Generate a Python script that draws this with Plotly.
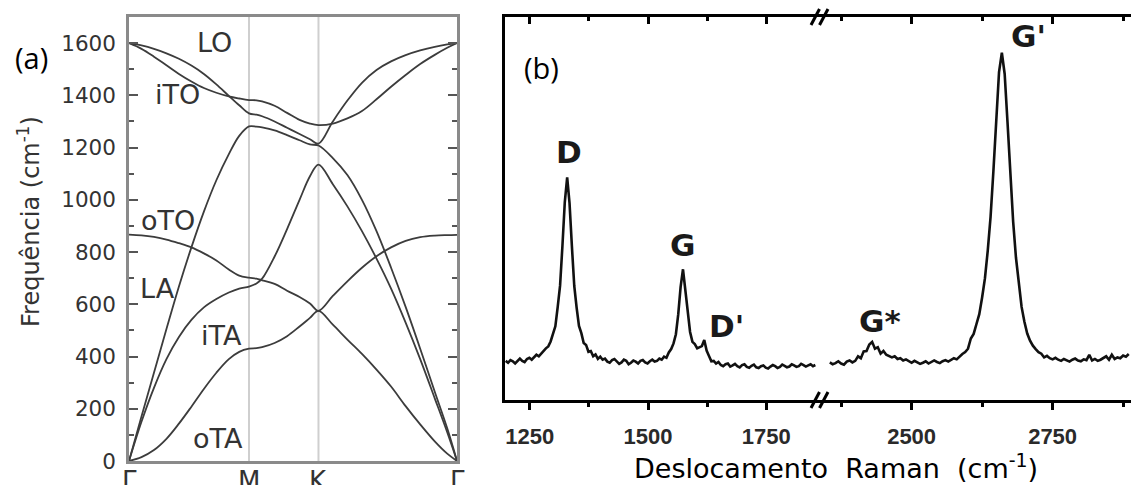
import plotly.graph_objects as go

W, H = 1131, 485

# ---------------- panel (a): graphene phonon dispersion ----------------
PATH_S = [0, .06, .12, .18, .24, .30, .36, .42, .48, .53, .577, .613, .64, .70,
          .76, .82, .87, .911, .98, 1.05, 1.12, 1.19, 1.26, 1.33, 1.40, 1.47, 1.53, 1.577]
KPOINT_POS = [0, 0.577, 0.911, 1.577]
KPOINT_LABELS = ["Γ", "M", "K", "Γ"]

LO = [1600, 1591, 1578, 1561, 1540, 1514, 1482, 1442, 1398, 1362, 1331, 1326, 1320, 1300,
      1276, 1252, 1232, 1215, 1300, 1380, 1448, 1497, 1530, 1554, 1572, 1586, 1595, 1600]
iTO = [1600, 1578, 1548, 1515, 1482, 1453, 1428, 1410, 1396, 1388, 1382, 1381, 1377, 1360,
       1333, 1306, 1292, 1286, 1292, 1312, 1340, 1385, 1433, 1478, 1520, 1555, 1582, 1600]
oTO = [867, 864, 858, 848, 834, 818, 795, 768, 733, 710, 702, 698, 692, 678,
       652, 628, 603, 575, 632, 688, 740, 784, 818, 843, 857, 863, 865, 866]
LA = [0, 170, 338, 505, 668, 818, 955, 1075, 1175, 1245, 1281, 1280, 1277, 1266,
      1248, 1228, 1212, 1208, 1160, 1095, 1000, 880, 740, 590, 430, 265, 125, 0]
iTA = [0, 150, 280, 390, 475, 540, 588, 620, 645, 660, 668, 680, 698, 783,
       888, 1000, 1090, 1135, 1060, 975, 880, 775, 660, 530, 390, 240, 110, 0]
oTA = [0, 15, 42, 85, 143, 208, 276, 338, 390, 418, 430, 432, 436, 452,
       478, 515, 548, 575, 522, 465, 410, 350, 285, 210, 140, 75, 28, 0]
BRANCHES = [LO, iTO, oTO, LA, iTA, oTA]

BRANCH_NAMES = ["LO", "iTO", "oTO", "LA", "iTA", "oTA"]
BRANCH_LABEL_S = [0.413, 0.235, 0.187, 0.139, 0.446, 0.428]
BRANCH_LABEL_F = [1601, 1402, 922, 660, 480, 88]

FREQ_TICKS = [0, 200, 400, 600, 800, 1000, 1200, 1400, 1600]
FREQ_MINOR = [100, 300, 500, 700, 900, 1100, 1300, 1500]

# ---------------- panel (b): Raman spectrum (broken axis) ----------------
LEFT_START, LEFT_STEP = 1199, 5
RAMAN_LEFT = [
    10.3, 9.8, 10.5, 10.2, 9.6, 10.4, 10.9, 10.3, 10.0, 10.8,
    11.1, 10.6, 11.3, 11.9, 11.5, 12.3, 12.9, 13.6, 14.1, 15.4,
    17.4, 19.4, 24.5, 30.1, 40.6, 52.1, 58.6, 51.8, 40.5, 30.0,
    24.3, 19.5, 17.6, 15.0, 14.5, 12.7, 12.9, 11.5, 12.0, 10.8,
    11.4, 10.6, 10.9, 10.1, 9.8, 10.5, 10.8, 10.2, 9.5, 9.9,
    10.6, 10.3, 9.4, 9.8, 10.4, 10.1, 9.6, 10.3, 10.5, 9.9,
    9.6, 10.2, 10.6, 10.1, 10.3, 10.9, 10.6, 11.4, 11.1, 12.5,
    13.4, 14.9, 17.3, 22.6, 29.8, 34.4, 29.3, 22.7, 17.9, 15.3,
    14.7, 13.6, 13.8, 14.2, 15.8, 13.0, 11.6, 10.2, 10.3, 9.6,
    10.0, 9.2, 8.9, 9.4, 9.6, 8.8, 9.1, 9.5, 8.9, 8.6,
    9.2, 9.4, 8.7, 8.5, 9.0, 9.3, 8.6, 8.4, 8.9, 9.1,
    8.5, 8.3, 8.8, 9.2, 8.9, 8.4, 8.7, 9.3, 9.0, 8.6,
    8.8, 9.4, 9.1, 8.7, 8.9, 9.5, 9.2, 8.8, 9.1, 9.4,
    8.9, 9.2]
RIGHT_START, RIGHT_STEP = 2355, 5
RAMAN_RIGHT = [
    9.9, 9.4, 9.7, 10.2, 9.6, 9.3, 10.1, 10.4, 9.9, 10.3,
    11.5, 11.0, 12.8, 12.9, 14.6, 15.3, 13.5, 13.9, 12.2, 12.9,
    11.9, 11.6, 11.2, 11.5, 10.8, 11.0, 10.4, 10.7, 10.2, 9.8,
    10.3, 9.9, 9.5, 9.8, 10.2, 9.6, 9.9, 10.4, 10.0, 9.7,
    10.2, 10.5, 10.1, 10.6, 11.0, 10.7, 11.5, 12.1, 12.6, 13.5,
    16.2, 17.4, 20.0, 22.6, 27.0, 32.0, 39.3, 48.2, 60.2, 73.5,
    86.3, 91.4, 85.8, 73.2, 59.4, 47.0, 37.5, 30.0, 24.5, 20.6,
    17.5, 15.6, 14.3, 13.4, 12.6, 12.2, 11.2, 11.6, 11.0, 10.7,
    11.1, 10.6, 10.3, 10.8, 10.5, 10.1, 10.6, 10.9, 10.4, 10.2,
    10.7, 10.5, 11.9, 10.4, 10.8, 10.3, 10.6, 11.0, 11.5, 10.6,
    11.9, 10.8, 11.2, 11.0, 11.7, 11.4, 12.1]
RAMAN_LEFT_X = [LEFT_START + LEFT_STEP * i for i in range(len(RAMAN_LEFT))]
RAMAN_RIGHT_X = [RIGHT_START + RIGHT_STEP * i for i in range(len(RAMAN_RIGHT))]

LEFT_RANGE = [1197.5, 1859.6]
RIGHT_RANGE = [2334, 2889]
LEFT_TICKS, LEFT_MINOR = [1250, 1500, 1750], [1375, 1625]
RIGHT_TICKS, RIGHT_MINOR = [2500, 2750], [2375, 2625, 2875]

PEAK_NAMES = ["D", "G", "D'", "G*", "G'"]
PEAK_X = [1333, 1572, 1667, 2444, 2707]
PEAK_Y = [65.4, 40.8, 19.5, 20.8, 95.7]
PEAK_AXIS = ["x2", "x2", "x2", "x3", "x3"]


def px(x):
    return x / W


def py(y):
    return 1 - y / H


fig = go.Figure()

# panel a traces
for vals in BRANCHES:
    fig.add_trace(go.Scatter(x=PATH_S, y=vals, mode="lines", xaxis="x", yaxis="y",
                             line=dict(color="#3c3c3c", width=1.8, shape="spline", smoothing=1.0),
                             showlegend=False, hoverinfo="skip"))

# panel b traces
fig.add_trace(go.Scatter(x=RAMAN_LEFT_X, y=RAMAN_LEFT, mode="lines", xaxis="x2", yaxis="y2",
                         line=dict(color="#111111", width=2.6), showlegend=False, hoverinfo="skip"))
fig.add_trace(go.Scatter(x=RAMAN_RIGHT_X, y=RAMAN_RIGHT, mode="lines", xaxis="x3", yaxis="y2",
                         line=dict(color="#111111", width=2.6), showlegend=False, hoverinfo="skip"))
# empty traces to activate the top tick axes
fig.add_trace(go.Scatter(x=[None], y=[None], xaxis="x4", yaxis="y2", showlegend=False, hoverinfo="skip"))
fig.add_trace(go.Scatter(x=[None], y=[None], xaxis="x5", yaxis="y2", showlegend=False, hoverinfo="skip"))

A_X = [px(129), px(457)]
A_Y = [py(461), py(17)]
B_L = [px(505), px(818)]
B_R = [px(818), 1.0]
B_Y = [py(400), py(17)]

tick_font_b = dict(family="Liberation Sans", size=22, color="#2a2a2a", weight="bold")

bottom_common = dict(showline=True, linecolor="black", linewidth=3, mirror=True,
                     ticks="outside", ticklen=7, tickwidth=3, tickcolor="black",
                     showgrid=False, zeroline=False, tickfont=tick_font_b, anchor="y2",
                     ticklabelstandoff=8, automargin=False)
top_common = dict(showline=False, ticks="inside", ticklen=7, tickwidth=3, tickcolor="black",
                  showgrid=False, zeroline=False, showticklabels=False, side="top", anchor="y2",
                  automargin=False)

fig.update_layout(
    width=W, height=H,
    margin=dict(l=0, r=0, t=0, b=0, autoexpand=False),
    paper_bgcolor="white", plot_bgcolor="white",
    showlegend=False,
    xaxis=dict(domain=A_X, range=[KPOINT_POS[0], KPOINT_POS[-1]], tickmode="array",
               tickvals=KPOINT_POS, showticklabels=False, ticks="", showgrid=False,
               zeroline=False, showline=True, linecolor="#8a8a8a", linewidth=2.5, mirror=True,
               anchor="y", automargin=False),
    yaxis=dict(domain=A_Y, range=[0, 1700], tickmode="array", tickvals=FREQ_TICKS,
               ticks="inside", ticklen=9, tickwidth=2, tickcolor="#555",
               minor=dict(tickvals=FREQ_MINOR, ticks="inside", ticklen=5, tickwidth=2, tickcolor="#555"),
               showline=True, linecolor="#8a8a8a", linewidth=2.5, mirror="ticks",
               showgrid=False, zeroline=False, anchor="x",
               tickfont=dict(family="DejaVu Sans", size=21.5, color="#333"),
               ticklabelstandoff=6, automargin=False),
    xaxis2=dict(domain=B_L, range=LEFT_RANGE, tickmode="array", tickvals=LEFT_TICKS,
                minor=dict(tickvals=LEFT_MINOR, ticks="outside", ticklen=4, tickwidth=3, tickcolor="black"),
                **bottom_common),
    xaxis3=dict(domain=B_R, range=RIGHT_RANGE, tickmode="array", tickvals=RIGHT_TICKS,
                minor=dict(tickvals=RIGHT_MINOR, ticks="outside", ticklen=4, tickwidth=3, tickcolor="black"),
                **bottom_common),
    xaxis4=dict(domain=B_L, range=LEFT_RANGE, overlaying="x2", tickmode="array", tickvals=LEFT_TICKS,
                minor=dict(tickvals=LEFT_MINOR, ticks="inside", ticklen=4, tickwidth=3, tickcolor="black"),
                **top_common),
    xaxis5=dict(domain=B_R, range=RIGHT_RANGE, overlaying="x3", tickmode="array", tickvals=RIGHT_TICKS,
                minor=dict(tickvals=RIGHT_MINOR, ticks="inside", ticklen=4, tickwidth=3, tickcolor="black"),
                **top_common),
    yaxis2=dict(domain=B_Y, range=[0, 100.8], showticklabels=False, ticks="", showgrid=False,
                zeroline=False, showline=True, linecolor="black", linewidth=3, anchor="x2",
                automargin=False),
)

# vertical guide lines at M and K
for xv in KPOINT_POS[1:3]:
    fig.add_shape(type="line", xref="x", yref="y domain", x0=xv, x1=xv, y0=0, y1=1,
                  line=dict(color="#cfcfcf", width=2), layer="below")

# high-symmetry point labels below panel (a) (cut by the bottom edge as in the original)
for name, xv in zip(KPOINT_LABELS, KPOINT_POS):
    fig.add_annotation(x=xv, y=py(481), xref="x", yref="paper", text=name, showarrow=False,
                       xanchor="center", yanchor="middle",
                       font=dict(family="DejaVu Sans", size=26, color="#333"))

# break marks
for yb in (17, 400):
    for xb in (811, 819.5):
        fig.add_shape(type="line", xref="paper", yref="paper",
                      x0=px(xb), y0=py(yb + 8), x1=px(xb + 8.5), y1=py(yb - 8),
                      line=dict(color="black", width=3))

# branch labels
for name, sx, fy in zip(BRANCH_NAMES, BRANCH_LABEL_S, BRANCH_LABEL_F):
    fig.add_annotation(x=sx, y=fy, xref="x", yref="y", text=name, showarrow=False,
                       xanchor="center", yanchor="middle",
                       font=dict(family="DejaVu Sans", size=27, color="#333"))

# peak labels
for name, xv, yv, ax in zip(PEAK_NAMES, PEAK_X, PEAK_Y, PEAK_AXIS):
    fig.add_annotation(x=xv, y=yv, xref=ax, yref="y2", text=name, showarrow=False,
                       xanchor="center", yanchor="middle",
                       font=dict(family="DejaVu Sans", size=31, color="#1a1a1a", weight="bold"))

# panel letters and axis titles
fig.add_annotation(x=px(31.5), y=py(57), xref="paper", yref="paper", text="(a)", showarrow=False,
                   xanchor="center", yanchor="middle",
                   font=dict(family="Open Sans", size=29, color="black"))
fig.add_annotation(x=px(541), y=py(68), xref="paper", yref="paper", text="(b)", showarrow=False,
                   xanchor="center", yanchor="middle",
                   font=dict(family="Open Sans", size=29, color="black"))
fig.add_annotation(x=px(29), y=py(222), xref="paper", yref="paper", textangle=-90,
                   text="Frequência (cm<sup>-1</sup>)", showarrow=False,
                   xanchor="center", yanchor="middle",
                   font=dict(family="DejaVu Sans", size=24, color="#333"))
fig.add_annotation(x=px(836), y=py(466), xref="paper", yref="paper",
                   text="Deslocamento\u00a0 Raman\u00a0 (cm<sup>-1</sup>)", showarrow=False,
                   xanchor="center", yanchor="middle",
                   font=dict(family="DejaVu Sans", size=27, color="black"))

fig.write_html("out.html", config={"displayModeBar": False},
               post_script="document.body.style.margin='0px';")
